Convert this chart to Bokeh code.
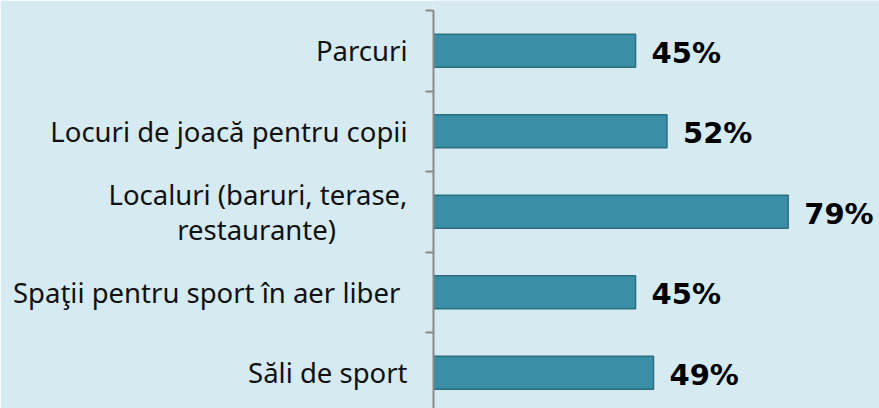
from bokeh.plotting import figure
from bokeh.models import Range1d, FixedTicker, ColumnDataSource
from bokeh.core.properties import value
from bokeh.embed import file_html
from bokeh.resources import INLINE

categories = [
    "Parcuri",
    "Locuri de joacă pentru copii",
    "Localuri (baruri, terase,\nrestaurante)" + "\u00a0" * 10,
    "Spaţii pentru sport în aer liber\u00a0",
    "Săli de sport",
]
values = [45, 52, 79, 45, 49]
value_labels = ["45%", "52%", "79%", "45%", "49%"]

n = len(categories)
centers = [n - i - 0.5 for i in range(n)]

BG = "#d5eaf1"
W, H = 879, 408
FRAME_LEFT = 433
px_per_unit = 80.5
y_end = n + 10 / px_per_unit
y_start = y_end - H / px_per_unit

p = figure(width=W, height=H, output_backend="svg", toolbar_location=None,
           x_range=Range1d(0, (W - FRAME_LEFT) / 4.49), y_range=Range1d(y_start, y_end),
           min_border_left=FRAME_LEFT, min_border_right=0, min_border_top=0, min_border_bottom=0)
p.background_fill_color = BG
p.border_fill_color = BG
p.outline_line_color = None
p.xgrid.visible = False
p.ygrid.visible = False
p.xaxis.visible = False

src = ColumnDataSource(dict(y=centers, v=values, lab=value_labels))
p.hbar(y="y", left=0, right="v", height=0.41, source=src,
       fill_color="#3a8fa6", line_color="#2c6e80", line_width=1.5)
p.text(x="v", y="y", text="lab", source=src, x_offset=16, y_offset=2,
       text_font=value("DejaVu Sans"), text_font_style="bold", text_font_size="29px",
       text_baseline="middle", text_align="left", text_color="#000000")

ax = p.yaxis[0]
ax.ticker = FixedTicker(ticks=centers, minor_ticks=list(range(n + 1)))
ax.major_label_overrides = {c: lab for c, lab in zip(centers, categories)}
ax.bounds = (0, n)
ax.major_tick_out = 0
ax.major_tick_in = 0
ax.minor_tick_out = 8
ax.minor_tick_in = 0
ax.axis_line_color = "#8a8a8a"
ax.axis_line_width = 2
ax.minor_tick_line_color = "#8a8a8a"
ax.minor_tick_line_width = 2
ax.major_label_standoff = 18
ax.major_label_text_font = "Noto Sans"
ax.major_label_text_font_size = "27.5px"
ax.major_label_text_line_height = 0.95
ax.major_label_text_color = "#111111"

open("out.html", "w").write(file_html(p, INLINE))
